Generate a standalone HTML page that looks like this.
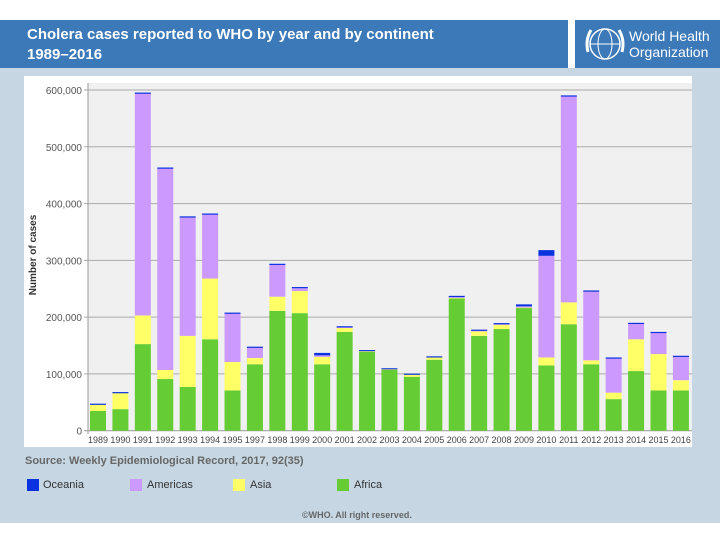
<!DOCTYPE html>
<html><head><meta charset="utf-8"><style>
body{margin:0;width:720px;height:540px;background:#fff;position:relative;overflow:hidden;font-family:"Liberation Sans",sans-serif}
#bg{position:absolute;left:0;top:68px;width:720px;height:455px;background:#c6d7e3}
#hdr{position:absolute;left:0;top:20px;width:568px;height:48px;background:#3b79b9;color:#fff;font-weight:bold;font-size:15px;line-height:20px;padding:5px 0 0 27px;box-sizing:border-box}
#logo{position:absolute;left:575px;top:20px;width:145px;height:48px;background:#3b79b9;color:#fff;font-size:14px;line-height:16px}
.t{position:absolute;font-size:11px;color:#555}
</style></head><body>
<div id="bg"></div>
<div id="hdr">Cholera cases reported to WHO by year and by continent<br>1989–2016</div>
<div id="logo">
<svg width="44" height="44" style="position:absolute;left:8px;top:2px"><circle cx="22" cy="22" r="15" fill="none" stroke="#fff" stroke-width="1.5"/><ellipse cx="22" cy="22" rx="7" ry="15" fill="none" stroke="#fff"/><line x1="7" y1="22" x2="37" y2="22" stroke="#fff"/><path d="M5 30 Q2 18 8 8 M39 30 Q42 18 36 8" stroke="#fff" fill="none" stroke-width="3"/></svg>
<div style="position:absolute;left:54px;top:8px">World Health<br>Organization</div></div>
<svg width="720" height="540" style="position:absolute;left:0;top:0" id="chart">
<rect x="24" y="76" width="668" height="371" fill="#fff"/>
<rect x="88" y="83" width="604" height="348" fill="#f0f0f0"/>
<g id="grid"></g><g id="bars"></g><g id="xl"></g>
<line x1="88" y1="83" x2="88" y2="434" stroke="#999"/>
<text x="36" y="255" transform="rotate(-90 36 255)" text-anchor="middle" font-size="10" font-weight="bold" fill="#333">Number of cases</text>
</svg>
<div class="t" style="left:25px;top:455px;font-weight:bold;font-size:11px;color:#666">Source: Weekly Epidemiological Record, 2017, 92(35)</div>
<div>
<div style="position:absolute;left:27px;top:479px;width:12px;height:12px;background:#0a32e0"></div><div class="t" style="left:43px;top:479px;color:#333">Oceania</div>
<div style="position:absolute;left:130px;top:479px;width:12px;height:12px;background:#cc99ff"></div><div class="t" style="left:147px;top:479px;color:#333">Americas</div>
<div style="position:absolute;left:233px;top:479px;width:12px;height:12px;background:#ffff66"></div><div class="t" style="left:250px;top:479px;color:#333">Asia</div>
<div style="position:absolute;left:337px;top:479px;width:12px;height:12px;background:#66cc33"></div><div class="t" style="left:354px;top:479px;color:#333">Africa</div>
</div>
<div class="t" style="left:302px;top:510px;font-size:9px;font-weight:bold;color:#666">©WHO. All right reserved.</div>
<script>
const years=["1989","1990","1991","1992","1993","1994","1995","1997","1998","1999","2000","2001","2002","2003","2004","2005","2006","2007","2008","2009","2010","2011","2012","2013","2014","2015","2016"];
const africa=[34700,38000,152500,91000,77000,161000,71000,117000,211000,207000,117000,174000,139000,107000,95000,125000,233000,167000,179000,217000,115000,187500,117000,55600,105000,71000,71000];
const asia=[11900,29000,50500,16000,90000,107000,50000,11000,25000,39000,13000,8000,2000,2000,4500,5000,2000,9000,8500,1000,14000,38500,7000,11400,56000,64000,18000];
const americas=[0,0,391000,355000,209000,113000,86000,19000,57000,5000,2700,1000,0,0,0,0,1000,1000,1000,1000,179000,363000,121500,61000,28000,38000,42000];
const oceania=[1000,1000,1500,1500,1500,1500,1000,1000,1000,2000,4300,1000,1000,1000,1000,1000,1500,1000,1000,3500,10000,1500,1500,1000,1000,1000,1000];
const yTicks=[0,100000,200000,300000,400000,500000,600000];
const y0=430.7,yPer=340.7/600000;
function Y(v){return y0-v*yPer}
function X(i){return 98+i*22.42}
const NS="http://www.w3.org/2000/svg";
const grid=document.getElementById('grid'),bars=document.getElementById('bars'),xl=document.getElementById('xl');
yTicks.forEach(t=>{
 const l=document.createElementNS(NS,'line');
 
 
 l.setAttribute('x1',84);l.setAttribute('x2',692);l.setAttribute('y1',Y(t));l.setAttribute('y2',Y(t));
 l.setAttribute('stroke',t?'#aaa':'#999');grid.appendChild(l);
 const tx=document.createElementNS(NS,'text');
 
 
 tx.setAttribute('x',82);tx.setAttribute('y',Y(t)+4);tx.setAttribute('text-anchor','end');tx.setAttribute('font-size','10');tx.setAttribute('fill','#555');
 tx.textContent=t.toLocaleString('en-US');grid.appendChild(tx);
});
const series=[[africa,'#66cc33'],[asia,'#ffff66'],[americas,'#cc99ff'],[oceania,'#0a32e0']];
years.forEach((yr,i)=>{
 let base=0;
 series.forEach(([arr,c])=>{
  const v=arr[i];if(!v)return;
  const r=document.createElementNS(NS,'rect');
  
  
  r.setAttribute('x',X(i)-8);r.setAttribute('width',16);
  r.setAttribute('y',Y(base+v));r.setAttribute('height',Math.max(1.2,Y(base)-Y(base+v)));
  r.setAttribute('fill',c);bars.appendChild(r);base+=v;
 });
 const tx=document.createElementNS(NS,'text');
 
 
 tx.setAttribute('x',X(i));tx.setAttribute('y',443);tx.setAttribute('text-anchor','middle');tx.setAttribute('font-size','9');tx.setAttribute('fill','#444');
 tx.textContent=yr;xl.appendChild(tx);
});
</script>
</body></html>
